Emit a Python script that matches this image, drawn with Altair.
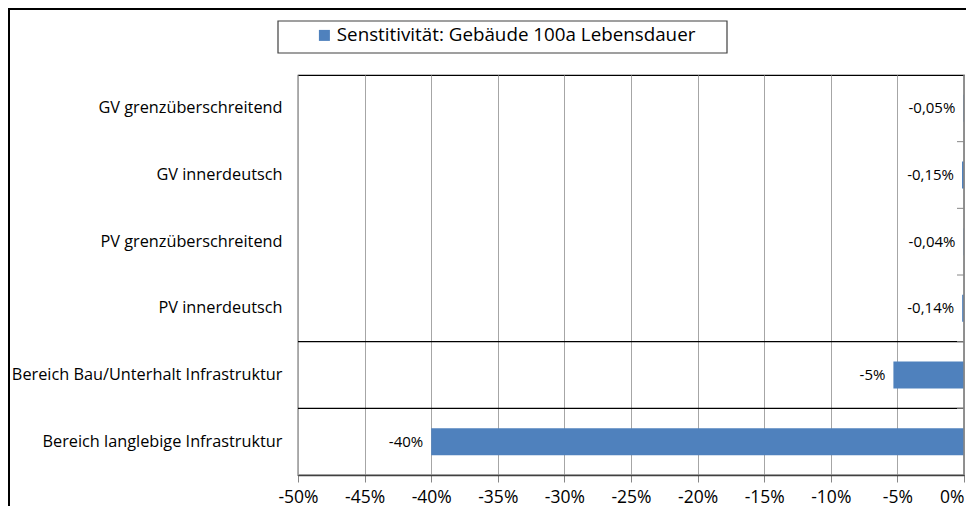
import altair as alt
import pandas as pd

categories = [
    "GV grenzüberschreitend",
    "GV innerdeutsch",
    "PV grenzüberschreitend",
    "PV innerdeutsch",
    "Bereich Bau/Unterhalt Infrastruktur",
    "Bereich langlebige Infrastruktur",
]
values = [-0.0005, -0.0015, -0.0004, -0.0014, -0.053, -0.40]
labels = ["-0,05%", "-0,15%", "-0,04%", "-0,14%", "-5%", "-40%"]
series_name = "Senstitivität: Gebäude 100a Lebensdauer"
x_ticks = [-0.5, -0.45, -0.4, -0.35, -0.3, -0.25, -0.2, -0.15, -0.1, -0.05, 0.0]
separator_rows = ["Bereich Bau/Unterhalt Infrastruktur", "Bereich langlebige Infrastruktur"]

FONT = "Open Sans"
BLUE = "#4F81BD"

df = pd.DataFrame({"cat": categories, "value": values, "label": labels, "series": series_name})
sep_df = pd.DataFrame({"cat": separator_rows})
tick_df = pd.DataFrame({"cat": categories[1:]})
one = pd.DataFrame({"a": [0]})

yscale = alt.Scale(domain=categories, paddingInner=0, paddingOuter=0)
xscale = alt.Scale(domain=[-0.5, 0], nice=False)

frame = alt.Chart(one).mark_rect(fill=None, stroke="#000000", strokeWidth=2, clip=False).encode(
    x=alt.value(-289), x2=alt.value(720), y=alt.value(-66), y2=alt.value(520)
)

legend_box = alt.Chart(one).mark_rect(fill="white", stroke="#404040", strokeWidth=1.2, clip=False).encode(
    x=alt.value(-20), x2=alt.value(429), y=alt.value(-54), y2=alt.value(-22)
)

bars = alt.Chart(df).mark_bar(height={"band": 0.405}).encode(
    y=alt.Y(
        "cat:N",
        scale=yscale,
        axis=alt.Axis(
            title=None, ticks=False, domain=False, grid=False,
            labelFont=FONT, labelFontSize=16.3, labelColor="#000000",
            labelPadding=16, labelLimit=400,
        ),
    ),
    x=alt.X(
        "value:Q",
        scale=xscale,
        axis=alt.Axis(
            title=None, values=x_ticks, grid=True, gridColor="#A6A6A6", gridWidth=1,
            tickColor="#868686", tickSize=7, domainColor="#404040", domainWidth=1.5,
            labelFont=FONT, labelFontSize=17.5, labelColor="#000000", labelPadding=6,
            labelExpr="(datum.value < -0.0001 ? '-' : '') + format(abs(datum.value) * 100, '.0f') + '%'",
            labelOverlap=False, labelFlush=False,
            labelAlign={"condition": {"test": "datum.value > -0.001", "value": "right"}, "value": "center"},
        ),
    ),
    color=alt.Color(
        "series:N",
        scale=alt.Scale(range=[BLUE]),
        legend=alt.Legend(
            title=None, orient="none", legendX=17, legendY=-49,
            symbolType="square", symbolSize=121, symbolStrokeWidth=0,
            labelFont=FONT, labelFontSize=18.8, labelColor="#000000",
            labelOffset=3, padding=0, labelLimit=500,
        ),
    ),
)

texts = alt.Chart(df).mark_text(align="right", baseline="middle", dx=-8, font=FONT, fontSize=15, color="#000000").encode(
    y=alt.Y("cat:N", scale=yscale),
    x=alt.X("value:Q", scale=xscale),
    text="label:N",
)

seps = alt.Chart(sep_df).mark_rule(color="#000000", strokeWidth=1.2).encode(
    y=alt.Y("cat:N", scale=yscale, bandPosition=0),
)

rticks = alt.Chart(tick_df).mark_rule(color="#868686", strokeWidth=1).encode(
    y=alt.Y("cat:N", scale=yscale, bandPosition=0),
    x=alt.value(659),
    x2=alt.value(666),
)

zero_rule = alt.Chart(one).mark_rule(color="#868686", strokeWidth=1.5).encode(
    x=alt.datum(0, scale=xscale),
)

chart = alt.layer(frame, legend_box, bars, texts, seps, rticks, zero_rule).properties(
    width=666,
    height=400,
    padding={"left": 290, "top": 67, "right": 2, "bottom": 31},
    autosize=alt.AutoSizeParams(type="none"),
    background="white",
).configure_view(stroke="#000000", strokeWidth=1.2)

chart.save("out.html", embed_options={"renderer": "svg", "actions": False})
